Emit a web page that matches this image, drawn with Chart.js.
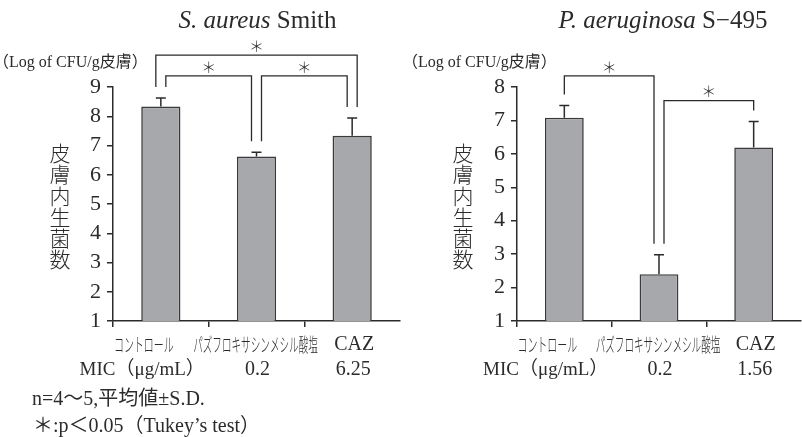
<!DOCTYPE html>
<html>
<head>
<meta charset="utf-8">
<script src="https://cdn.jsdelivr.net/npm/chart.js@4.4.1/dist/chart.umd.min.js"></script>
<style>
  html, body { margin: 0; padding: 0; background: #fff; overflow: hidden; }
  #wrap { position: relative; width: 802px; height: 437px; }
  canvas { position: absolute; top: 0; }
</style>
</head>
<body>
<div id="wrap">
  <canvas id="left" width="401" height="437" style="left:0"></canvas>
  <canvas id="right" width="401" height="437" style="left:401px"></canvas>
</div>
<script>
// Treatment groups shared by both panels
const groups = ['コントロール', 'パズフロキサシンメシル酸塩', 'CAZ'];
const micCaption = 'MIC（μg/mL）';

// S. aureus Smith: viable counts in skin (log CFU/g), mean and S.D.
const aureusMean = [8.33, 6.62, 7.33];
const aureusSD = [0.29, 0.15, 0.61];
const aureusMIC = ['', '0.2', '6.25'];
const aureusTicks = [1, 2, 3, 4, 5, 6, 7, 8, 9];

// P. aeruginosa S-495
const aeruMean = [7.08, 2.40, 6.19];
const aeruSD = [0.37, 0.58, 0.78];
const aeruMIC = ['', '0.2', '1.56'];
const aeruTicks = [1, 2, 3, 4, 5, 6, 7, 8];

// Significance brackets: group pair (a, b), height of the bar joining them
const aureusPairs = [[0, 2, 10.09], [0, 1, 9.38], [1, 2, 9.38]];
const aeruPairs = [[0, 1, 8.33], [1, 2, 7.59]];

const INK = '#2b2b2b';
const SERIF = '"Liberation Serif", "DejaVu Serif", serif';
const CJK = '"Noto Sans CJK JP", sans-serif';

function panel(canvasId, opts) {
  const { mean, sd, mic, ticks, pairs, legs, title, unitX, sideX, areaLeft, notes } = opts;

  const overlay = {
    id: 'overlay',
    afterDatasetsDraw(chart) {
      const ctx = chart.ctx;
      const y = chart.scales.y;
      const bars = chart.getDatasetMeta(0).data;
      const errTop = mean.map((m, i) => y.getPixelForValue(m + sd[i]));

      ctx.save();
      ctx.strokeStyle = INK;
      ctx.lineWidth = 1.5;
      // upper error bars with caps
      bars.forEach((bar, i) => {
        ctx.beginPath();
        ctx.moveTo(bar.x, bar.y);
        ctx.lineTo(bar.x, errTop[i]);
        ctx.moveTo(bar.x - 5, errTop[i]);
        ctx.lineTo(bar.x + 5, errTop[i]);
        ctx.stroke();
      });

      // significance brackets
      ctx.lineWidth = 1.3;
      pairs.forEach(([a, b, level], k) => {
        const [da, db] = legs[k];
        const xa = bars[a].x + da, xb = bars[b].x + db;
        const top = y.getPixelForValue(level);
        ctx.beginPath();
        ctx.moveTo(xa, errTop[a] - 11);
        ctx.lineTo(xa, top);
        ctx.lineTo(xb, top);
        ctx.lineTo(xb, errTop[b] - 11);
        ctx.stroke();
        ctx.fillStyle = INK;
        ctx.font = '300 15px ' + CJK;
        ctx.textAlign = 'center';
        ctx.textBaseline = 'middle';
        ctx.fillText('＊', (xa + xb) / 2, top - 9);
      });
      ctx.restore();
    },
    afterDraw(chart) {
      const ctx = chart.ctx;
      const bars = chart.getDatasetMeta(0).data;
      ctx.save();
      ctx.fillStyle = INK;
      ctx.textBaseline = 'middle';

      // panel title: italic species name followed by strain
      ctx.font = 'italic 25px ' + SERIF;
      const wi = ctx.measureText(title[0]).width;
      ctx.font = '25px ' + SERIF;
      const wn = ctx.measureText(title[1]).width;
      const tx = title[2] - (wi + wn) / 2;
      ctx.textAlign = 'left';
      ctx.font = 'italic 25px ' + SERIF;
      ctx.fillText(title[0], tx, 21);
      ctx.font = '25px ' + SERIF;
      ctx.fillText(title[1], tx + wi, 21);

      // unit above the value axis
      ctx.font = '16px ' + SERIF + ', ' + CJK;
      ctx.fillText('（Log of CFU/g皮膚）', unitX, 63);

      // vertical axis caption, one character per line
      ctx.font = '300 21px ' + CJK;
      ctx.textAlign = 'center';
      [...'皮膚内生菌数'].forEach((ch, i) => ctx.fillText(ch, sideX, 153 + i * 21.3));

      // group names under the axis (katakana set condensed)
      groups.forEach((g, i) => {
        const cx = bars[i].x;
        if (i < 2) {
          ctx.save();
          ctx.font = '300 19px ' + CJK;
          ctx.translate(cx + (i === 0 ? -17 : -1), 345);
          ctx.scale(i === 0 ? 0.525 : 0.505, 1);
          ctx.textAlign = 'center';
          ctx.fillText(g, 0, 0);
          ctx.restore();
        } else {
          ctx.font = '20px ' + SERIF;
          ctx.fillText(g, cx + 2, 345);
        }
      });

      // MIC row
      ctx.font = '19px ' + SERIF + ', ' + CJK;
      ctx.textAlign = 'right';
      ctx.fillText(micCaption, bars[0].x + 44, 370);
      ctx.font = '20px ' + SERIF;
      ctx.textAlign = 'center';
      mic.forEach((m, i) => { if (m) ctx.fillText(m, bars[i].x + 1, 370); });

      // footnotes
      if (notes) {
        ctx.textAlign = 'left';
        ctx.font = '20px ' + SERIF + ', ' + CJK;
        ctx.fillText(notes[0], 32, 400);
        ctx.fillText(notes[1], 33, 427);
      }
      ctx.restore();
    }
  };

  return new Chart(document.getElementById(canvasId), {
    type: 'bar',
    data: {
      labels: groups,
      datasets: [{
        data: mean,
        backgroundColor: '#a7a8ac',
        borderColor: '#3a3a3a',
        borderWidth: 1.6,
        barPercentage: 0.41,
        categoryPercentage: 1
      }]
    },
    options: {
      responsive: false,
      animation: false,
      devicePixelRatio: 1,
      layout: { padding: { top: 87, right: 401 - areaLeft - 287 + (areaLeft - 113), bottom: 0, left: 0 } },
      plugins: { legend: { display: false }, tooltip: { enabled: false } },
      scales: {
        x: {
          type: 'category',
          offset: true,
          grid: {
            offset: true,
            drawOnChartArea: false,
            tickLength: 6,
            lineWidth: 1.5,
            // tick marks only at the left edge and between groups
            color: c => (c.tick ? INK : 'rgba(0,0,0,0)')
          },
          border: { color: INK, width: 1.5 },
          ticks: { display: false },
          afterFit: s => { s.height = 116; }
        },
        y: {
          min: ticks[0],
          max: ticks[ticks.length - 1],
          afterBuildTicks: s => { s.ticks = ticks.map(v => ({ value: v })); },
          grid: { drawOnChartArea: false, tickLength: 6, lineWidth: 1.5, color: INK },
          border: { color: INK, width: 1.5 },
          ticks: {
            autoSkip: false,
            padding: 6,
            color: INK,
            font: { family: SERIF, size: 22 }
          },
          afterFit: s => { s.width = areaLeft; }
        }
      }
    },
    plugins: [overlay]
  });
}

panel('left', {
  mean: aureusMean, sd: aureusSD, mic: aureusMIC, ticks: aureusTicks,
  pairs: aureusPairs, legs: [[-5, 5], [5, -5], [5, -5]],
  title: ['S. aureus', ' Smith', 257.5],
  unitX: -7, sideX: 60, areaLeft: 113,
  notes: ['n=4～5,平均値±S.D.', '＊:p＜0.05（Tukey’s test）']
});

panel('right', {
  mean: aeruMean, sd: aeruSD, mic: aeruMIC, ticks: aeruTicks,
  pairs: aeruPairs, legs: [[0, -5], [5, 0]],
  title: ['P. aeruginosa', ' S−495', 262],
  unitX: 1, sideX: 62, areaLeft: 116,
  notes: null
});
</script>
</body>
</html>
